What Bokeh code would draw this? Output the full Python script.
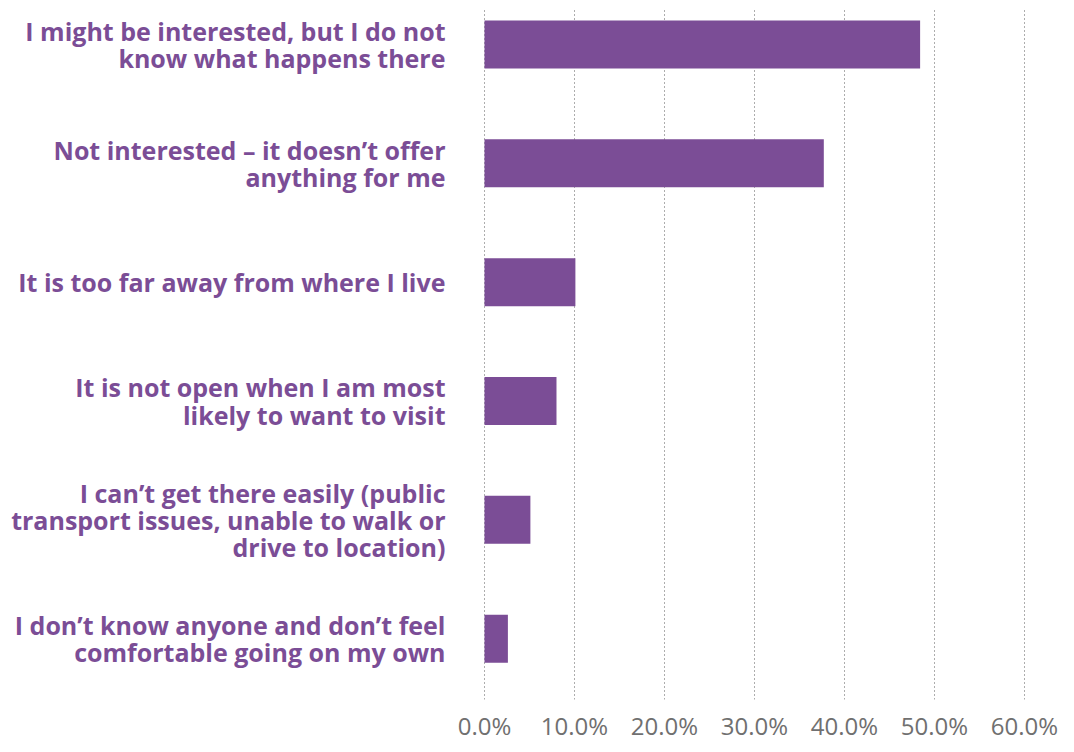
from bokeh.plotting import figure
from bokeh.models import Range1d, FixedTicker, PrintfTickFormatter
from bokeh.embed import file_html
from bokeh.resources import INLINE

categories = [
    "I might be interested, but I do not\nknow what happens there",
    "Not interested \u2013 it doesn\u2019t offer\nanything for me",
    "It is too far away from where I live",
    "It is not open when I am most\nlikely to want to visit",
    "I can\u2019t get there easily (public\ntransport issues, unable to walk or\ndrive to location)",
    "I don\u2019t know anyone and don\u2019t feel\ncomfortable going on my own",
]
values = [48.4, 37.7, 10.1, 8.0, 5.1, 2.6]
x_ticks = [0, 10, 20, 30, 40, 50, 60]

PURPLE = "#7b4d96"

n = len(categories)
ypos = [n - 1 - i for i in range(n)]

p = figure(
    width=1066, height=744,
    x_range=Range1d(-0.11, 60.22), y_range=Range1d(-0.5118, 5.311),
    output_backend="svg", toolbar_location=None,
    min_border_left=483, min_border_right=40, min_border_top=7, min_border_bottom=35,
)
p.outline_line_color = None
p.background_fill_color = "white"
p.border_fill_color = "white"

p.hbar(y=ypos, right=values, left=0, height=0.404, fill_color=PURPLE, line_color=None)

# x axis
p.xaxis.ticker = FixedTicker(ticks=x_ticks)
p.xaxis.formatter = PrintfTickFormatter(format="%.1f%%")
p.xaxis.axis_line_color = None
p.xaxis.major_tick_line_color = None
p.xaxis.minor_tick_line_color = None
p.xaxis.major_label_text_font = "Open Sans"
p.xaxis.major_label_text_font_size = "24px"
p.xaxis.major_label_text_color = "#707070"
p.xaxis.major_label_standoff = 3

# y axis
p.yaxis.ticker = FixedTicker(ticks=ypos)
p.yaxis.major_label_overrides = {y: c for y, c in zip(ypos, categories)}
p.yaxis.axis_line_color = None
p.yaxis.major_tick_line_color = None
p.yaxis.minor_tick_line_color = None
p.yaxis.major_label_text_font = "Open Sans"
p.yaxis.major_label_text_font_style = "bold"
p.yaxis.major_label_text_font_size = "25px"
p.yaxis.major_label_text_color = PURPLE
p.yaxis.major_label_text_line_height = 0.8
p.yaxis.major_label_standoff = 32

# grid
p.xgrid.ticker = FixedTicker(ticks=x_ticks)
p.xgrid.grid_line_color = "#5a5a5a"
p.xgrid.grid_line_dash = "1 3"
p.xgrid.grid_line_width = 1
p.ygrid.grid_line_color = None

open("out.html", "w").write(file_html(p, INLINE))
